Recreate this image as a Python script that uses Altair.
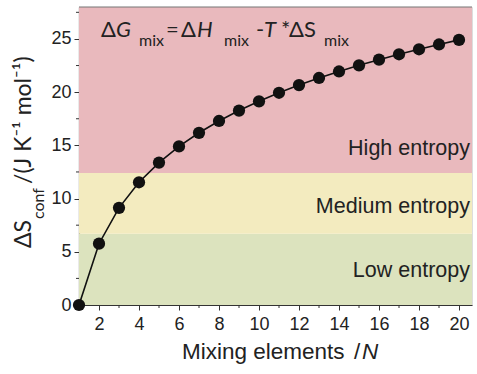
import altair as alt
import pandas as pd

# ---- data ----
N = list(range(1, 21))
S_conf = [0.0, 5.76, 9.13, 11.53, 13.38, 14.90, 16.18, 17.29, 18.27, 19.14,
          19.94, 20.66, 21.33, 21.94, 22.52, 23.05, 23.56, 24.03, 24.48, 24.91]

band_names = ["Low entropy", "Medium entropy", "High entropy"]
band_lo = [0.0, 6.7, 12.4]
band_hi = [6.7, 12.4, 28.0]
band_colors = ["#DCE3BE", "#F3EBBF", "#E9B9BD"]

x_ticks = [2, 4, 6, 8, 10, 12, 14, 16, 18, 20]
x_minor = [3, 5, 7, 9, 11, 13, 15, 17, 19]
y_ticks = [0, 5, 10, 15, 20, 25]
y_minor = [2.5, 7.5, 12.5, 17.5, 22.5, 27.5]

# ---- layout ----
W, H = 393, 298
AX = "#333333"
LBL = "#222222"
SANS = "Liberation Sans"
FORM = "Lato"

xs = alt.Scale(domain=[1, 20.65], nice=False, zero=False)
ys = alt.Scale(domain=[0, 28], nice=False)

pts = pd.DataFrame({"N": N, "S": S_conf})
bands = pd.DataFrame({"name": band_names, "lo": band_lo, "hi": band_hi})

xaxis = alt.Axis(values=x_ticks, title=None, grid=False, tickSize=5, tickColor=AX,
                 domainColor=AX, labelColor=LBL, labelFontSize=18, labelFont=SANS,
                 labelPadding=5, domainWidth=1.2)
yaxis = alt.Axis(values=y_ticks, title=None, grid=False, tickSize=5, tickColor=AX,
                 domainColor=AX, labelColor=LBL, labelFontSize=18, labelFont=SANS,
                 labelPadding=3, domainWidth=1.2)

band_layer = alt.Chart(bands).mark_rect().encode(
    x=alt.value(0), x2=alt.value(W),
    y=alt.Y("lo:Q", scale=ys, axis=yaxis), y2="hi:Q",
    color=alt.Color("name:N", scale=alt.Scale(domain=band_names, range=band_colors), legend=None),
)

line = alt.Chart(pts).mark_line(color="#111111", strokeWidth=1.6).encode(
    x=alt.X("N:Q", scale=xs, axis=xaxis),
    y=alt.Y("S:Q", scale=ys, axis=yaxis),
)
dots = alt.Chart(pts).mark_circle(color="#111111", opacity=1, size=150).encode(
    x=alt.X("N:Q", scale=xs, axis=xaxis), y=alt.Y("S:Q", scale=ys, axis=yaxis),
)

mx = alt.Chart(pd.DataFrame({"v": x_minor})).mark_rule(color=AX, strokeWidth=1).encode(
    x=alt.X("v:Q", scale=xs, axis=xaxis), y=alt.value(H), y2=alt.value(H + 3))
my = alt.Chart(pd.DataFrame({"v": y_minor})).mark_rule(color=AX, strokeWidth=1).encode(
    y=alt.Y("v:Q", scale=ys, axis=yaxis), x=alt.value(0), x2=alt.value(-3))
top = alt.Chart(pd.DataFrame({"v": [0]})).mark_rule(color="#777777", strokeWidth=1.2).encode(
    x=alt.value(0), x2=alt.value(W), y=alt.value(0))


def txt(s, x, y, size, font=SANS, style="normal", align="left", angle=0, color=LBL):
    kw = dict(text=s, align=align, baseline="alphabetic", fontSize=size, font=font,
              fontStyle=style, color=color)
    if angle:
        kw["angle"] = angle
    return alt.Chart(pd.DataFrame({"v": [0]})).mark_text(**kw).encode(
        x=alt.value(x), y=alt.value(y))


labels = [
    # formula
    txt("Δ", 22, 30, 22, FORM),
    txt("G", 37, 30, 22, FORM, "italic"),
    txt("mix", 60, 38.5, 16, FORM),
    txt("=", 87, 30, 22, FORM),
    txt("Δ", 102, 30, 22, FORM),
    txt("H", 118, 30, 22, FORM, "italic"),
    txt("mix", 145, 38.5, 16, FORM),
    txt("-", 177, 30, 22, FORM),
    txt("T", 185, 30, 22, FORM, "italic"),
    txt("*", 202, 30, 22, FORM),
    txt("Δ", 210, 30, 22, FORM),
    txt("S", 225, 30, 22, FORM),
    txt("mix", 245, 38.5, 16, FORM),
    # band labels
    txt("High entropy", 391, 148, 21.5, align="right"),
    txt("Medium entropy", 391, 206, 21.5, align="right"),
    txt("Low entropy", 391, 270, 21.5, align="right"),
    # y title
    txt("ΔS", -48, 241, 23, FORM, angle=270),
    txt("conf", -35, 212, 16, FORM, angle=270),
    txt("/(J K⁻¹ mol⁻¹)", -48, 177, 23, FORM, angle=270),
    # x title
    txt("Mixing elements", 103, 352, 22.5),
    txt("/", 275, 352, 22.5),
    txt("N", 283, 352, 22.5, style="italic"),
]

chart = alt.layer(band_layer, line, dots, mx, my, top, *labels).properties(
    width=W, height=H,
    autosize=alt.AutoSizeParams(type="none"),
    padding={"left": 79, "top": 7, "right": 5, "bottom": 69},
).configure_view(stroke=None).configure(background="white")

chart.save("out.html", embed_options={"renderer": "svg", "actions": False})
